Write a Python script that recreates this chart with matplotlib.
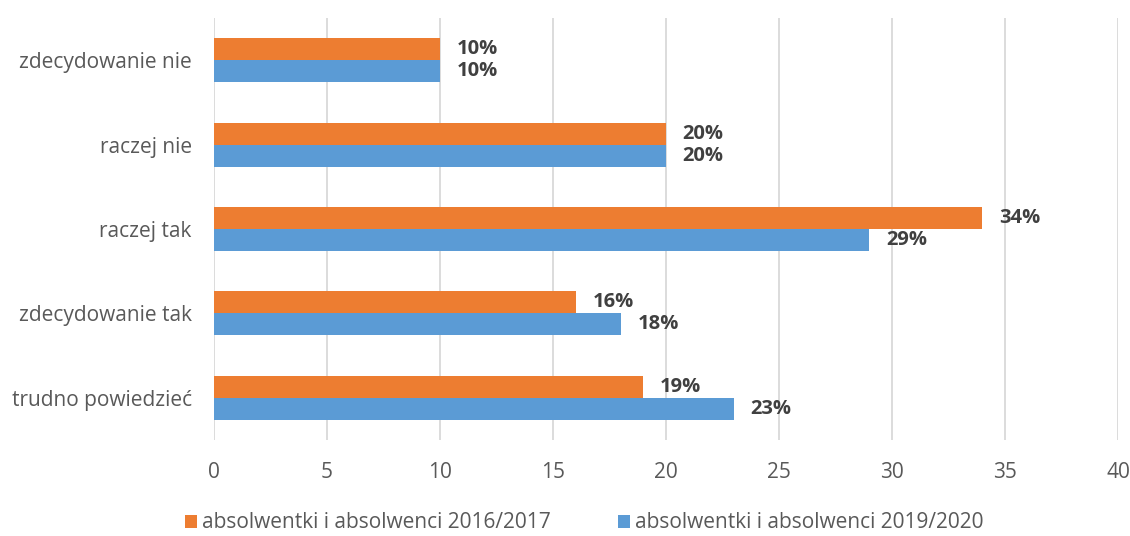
import matplotlib.pyplot as plt
import numpy as np

categories = ["zdecydowanie nie", "raczej nie", "raczej tak", "zdecydowanie tak", "trudno powiedzieć"]
series_2016 = [10, 20, 34, 16, 19]
series_2019 = [10, 20, 29, 18, 23]
label_2016 = "absolwentki i absolwenci 2016/2017"
label_2019 = "absolwentki i absolwenci 2019/2020"
xticks = [0, 5, 10, 15, 20, 25, 30, 35, 40]

plt.rcParams['font.family'] = ['Open Sans', 'DejaVu Sans']

fig = plt.figure(figsize=(11.3, 5.36), dpi=100)
ax = fig.add_axes([214/1130, 1-440/536, (1118-214)/1130, (440-18)/536])

orange = "#ED7D31"
blue = "#5B9BD5"
h = 0.26
y = np.arange(len(categories))[::-1].astype(float)
b1 = ax.barh(y + h/2, series_2016, height=h, color=orange, label=label_2016, zorder=3)
b2 = ax.barh(y - h/2, series_2019, height=h, color=blue, label=label_2019, zorder=3)

for bars, vals in ((b1, series_2016), (b2, series_2019)):
    for bar, v in zip(bars, vals):
        ax.annotate(f"{v}%", (v, bar.get_y() + bar.get_height()/2), xytext=(12, 0),
                    textcoords="offset points", va="center", ha="left",
                    fontsize=14.5, fontweight="bold", color="#404040")

ax.set_xlim(0, 40)
ax.set_ylim(-0.5, len(categories) - 0.5)
ax.set_xticks(xticks)
ax.set_yticks(y)
ax.set_yticklabels(categories)
ax.tick_params(axis="both", length=0, labelsize=15, labelcolor="#595959")
ax.tick_params(axis="x", pad=16)
ax.tick_params(axis="y", pad=16)
ax.grid(axis="x", color="#D9D9D9", linewidth=1.3, zorder=0)
for s in ax.spines.values():
    s.set_visible(False)

fig.legend(handles=[b1, b2], labels=[label_2016, label_2019], loc="center",
           bbox_to_anchor=(0.517, 1-523/536), ncol=2, frameon=False,
           fontsize=15, labelcolor="#595959", handlelength=0.6, handleheight=0.6,
           handletextpad=0.25, columnspacing=3.2)

fig.savefig("out.png", dpi=100)
